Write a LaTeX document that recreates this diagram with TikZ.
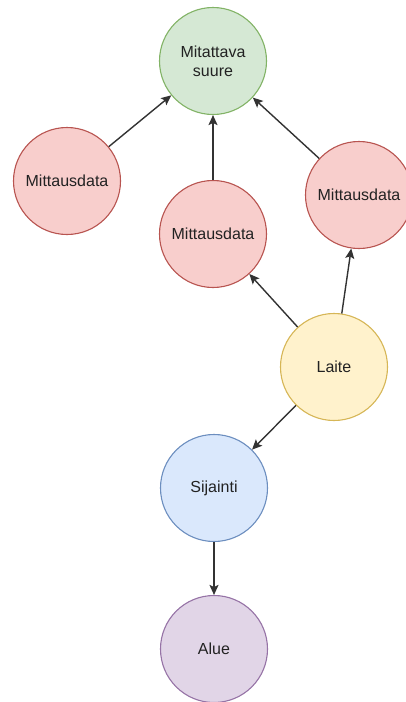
\documentclass[tikz,border=0pt]{standalone}
\usepackage{fontspec}
\setmainfont{Liberation Sans}
\usetikzlibrary{arrows.meta}

\definecolor{greenfill}{HTML}{D5E8D4}\definecolor{greenline}{HTML}{82B366}
\definecolor{redfill}{HTML}{F8CECC}\definecolor{redline}{HTML}{B85450}
\definecolor{yellowfill}{HTML}{FFF2CC}\definecolor{yellowline}{HTML}{D6B656}
\definecolor{bluefill}{HTML}{DAE8FC}\definecolor{blueline}{HTML}{6C8EBF}
\definecolor{purplefill}{HTML}{E1D5E7}\definecolor{purpleline}{HTML}{9673A6}
\definecolor{textgray}{HTML}{222222}
\definecolor{edgegray}{HTML}{333333}

\begin{document}
\begin{tikzpicture}[x=1pt,y=-1pt,
  entity/.style={circle,minimum size=107pt,inner sep=0pt,line width=1.1pt,
    align=center,text=textgray,font=\fontsize{16}{19}\selectfont},
  measure/.style={entity,draw=redline,fill=redfill},
  link/.style={draw=edgegray,line width=1.4pt,-{Stealth[length=10pt,width=9pt,inset=2pt]}}]
  \useasboundingbox (0,0) rectangle (406,702);
  \clip (0,0) rectangle (406,702);

  % entities
  \node[entity,draw=greenline,fill=greenfill] (suure) at (213,61) {Mitattava\\suure};
  \node[measure] (mdL) at (67,181) {Mittausdata};
  \node[measure] (mdM) at (213,234) {Mittausdata};
  \node[measure] (mdR) at (359,195) {Mittausdata};
  \node[entity,draw=yellowline,fill=yellowfill] (laite) at (334,367) {Laite};
  \node[entity,draw=blueline,fill=bluefill] (sij) at (214,488) {Sijainti};
  \node[entity,draw=purpleline,fill=purplefill] (alue) at (214,649) {Alue};

  % relations
  \draw[link] (mdL) -- (suure);
  \draw[link] (mdM) -- (suure);
  \draw[link] (mdR) -- (suure);
  \draw[link] (laite) -- (mdM);
  \draw[link] (laite) -- (mdR);
  \draw[link] (laite) -- (sij);
  \draw[link] (sij) -- (alue);
\end{tikzpicture}
\end{document}
